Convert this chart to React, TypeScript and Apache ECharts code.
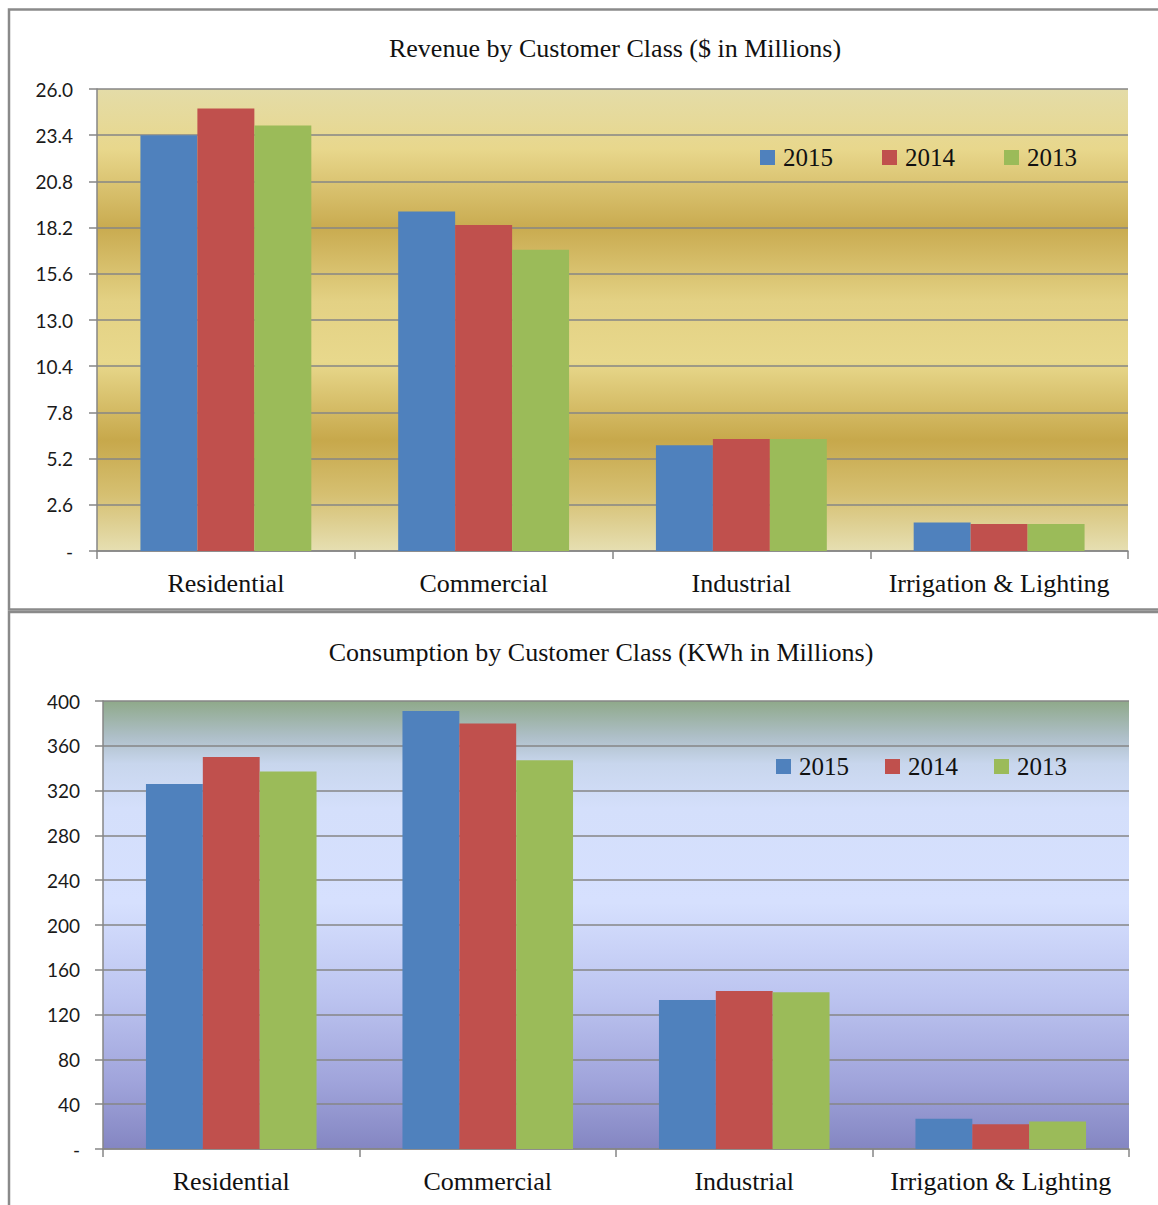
import React, { useEffect, useRef } from 'react';
import * as echarts from 'echarts';

const categories = ['Residential', 'Commercial', 'Industrial', 'Irrigation & Lighting'];
const years = ['2015', '2014', '2013'];
const revenue2015 = [23.4, 19.1, 5.95, 1.6];
const revenue2014 = [24.9, 18.35, 6.3, 1.52];
const revenue2013 = [23.95, 16.95, 6.3, 1.52];
const consumption2015 = [326, 391, 133, 27];
const consumption2014 = [350, 380, 141, 22];
const consumption2013 = [337, 347, 140, 24.5];
const revenueAxis = { min: 0, max: 26, interval: 2.6 };
const consumptionAxis = { min: 0, max: 400, interval: 40 };
const revenueTitle = 'Revenue by Customer Class ($ in Millions)';
const consumptionTitle = 'Consumption by Customer Class (KWh in Millions)';

const colors = ['#4f81bd', '#c0504d', '#9bbb59'];
const SERIF = '"Liberation Serif", "DejaVu Serif", serif';
const SANS = 'Lato, "Open Sans", sans-serif';
const GRID_GRAY = '#868686';

const goldGradient = new echarts.graphic.LinearGradient(0, 0, 0, 1, [
  { offset: 0, color: '#e4dca8' },
  { offset: 0.13, color: '#e8d78c' },
  { offset: 0.3, color: '#c9ab50' },
  { offset: 0.46, color: '#e3d184' },
  { offset: 0.59, color: '#e8d88c' },
  { offset: 0.76, color: '#c7a84b' },
  { offset: 0.88, color: '#d6c072' },
  { offset: 1, color: '#e6dfb2' },
]);

const blueGradient = new echarts.graphic.LinearGradient(0, 0, 0, 1, [
  { offset: 0, color: '#8fa98a' },
  { offset: 0.08, color: '#aebfc8' },
  { offset: 0.14, color: '#c8d6ed' },
  { offset: 0.24, color: '#d4dffb' },
  { offset: 0.45, color: '#d6e0fe' },
  { offset: 0.66, color: '#bcc4f0' },
  { offset: 0.85, color: '#a0a4db' },
  { offset: 1, color: '#8486c2' },
]);

function App() {
  const ref = useRef<HTMLDivElement>(null);

  useEffect(() => {
    if (!ref.current) return;
    const chart = echarts.init(ref.current, null, { renderer: 'svg' });

    const xAxisBase = (gridIndex: number) => ({
      type: 'category',
      gridIndex,
      data: categories,
      axisLine: { show: true, lineStyle: { color: GRID_GRAY, width: 1.5 } },
      axisTick: { show: true, interval: 0, length: 8, lineStyle: { color: GRID_GRAY, width: 1.5 } },
      axisLabel: { interval: 0, color: '#111', fontFamily: SERIF, fontSize: 26, margin: 19 },
      splitLine: { show: false },
    });

    const yAxisBase = (gridIndex: number, cfg: any, margin: number, fmt: (v: number) => string) => ({
      type: 'value',
      gridIndex,
      min: cfg.min,
      max: cfg.max,
      interval: cfg.interval,
      axisLine: { show: true, lineStyle: { color: GRID_GRAY, width: 1.5 } },
      axisTick: { show: true, length: 8, lineStyle: { color: GRID_GRAY, width: 1.5 } },
      axisLabel: { color: '#1a1a1a', fontFamily: SANS, fontSize: 19, margin, formatter: fmt },
      splitLine: { show: true, lineStyle: { color: GRID_GRAY, width: 1.5 } },
    });

    const revenueSeries = [revenue2015, revenue2014, revenue2013];
    const consumptionSeries = [consumption2015, consumption2014, consumption2013];

    const series: any[] = [];
    years.forEach((y, i) => {
      series.push({
        type: 'bar',
        name: y,
        xAxisIndex: 0,
        yAxisIndex: 0,
        data: revenueSeries[i],
        itemStyle: { color: colors[i] },
        barGap: '0%',
        barCategoryGap: '33.7%',
      });
    });
    years.forEach((y, i) => {
      series.push({
        type: 'bar',
        name: y,
        xAxisIndex: 1,
        yAxisIndex: 1,
        data: consumptionSeries[i],
        itemStyle: { color: colors[i] },
        barGap: '0%',
        barCategoryGap: '33.5%',
      });
    });

    const legendBase = (left: number, top: number, gap: number) => ({
      left,
      top,
      data: years,
      icon: 'rect',
      itemWidth: 15,
      itemHeight: 15,
      itemGap: gap,
      textStyle: { fontFamily: SERIF, fontSize: 25, color: '#111', padding: [0, 0, 0, 3] },
      selectedMode: false,
    });

    chart.setOption({
      animation: false,
      backgroundColor: '#ffffff',
      color: colors,
      grid: [
        { left: 97, top: 89, width: 1031, height: 462, show: true, borderWidth: 0, backgroundColor: goldGradient },
        { left: 103, top: 701, width: 1026, height: 448, show: true, borderWidth: 0, backgroundColor: blueGradient },
      ],
      xAxis: [xAxisBase(0), xAxisBase(1)],
      yAxis: [
        yAxisBase(0, revenueAxis, 24, (v: number) => (v === 0 ? '-' : v.toFixed(1))),
        yAxisBase(1, consumptionAxis, 23, (v: number) => (v === 0 ? '-' : String(Math.round(v)))),
      ],
      legend: [legendBase(755, 140, 49), legendBase(771, 749, 36)],
      series,
      graphic: [
        {
          type: 'rect',
          shape: { x: 9, y: 9.5, width: 1170, height: 600 },
          style: { fill: 'none', stroke: '#8a8a8a', lineWidth: 2.5 },
          silent: true,
        },
        {
          type: 'rect',
          shape: { x: 9, y: 612, width: 1170, height: 620 },
          style: { fill: 'none', stroke: '#8a8a8a', lineWidth: 2.5 },
          silent: true,
        },
        {
          type: 'text',
          x: 615,
          y: 48,
          style: {
            text: revenueTitle,
            fontFamily: SERIF,
            fontSize: 26,
            fill: '#111',
            textAlign: 'center',
            textVerticalAlign: 'middle',
          },
        },
        {
          type: 'text',
          x: 601,
          y: 652,
          style: {
            text: consumptionTitle,
            fontFamily: SERIF,
            fontSize: 26,
            fill: '#111',
            textAlign: 'center',
            textVerticalAlign: 'middle',
          },
        },
      ],
    });

    return () => {
      chart.dispose();
    };
  }, []);

  return (
    <div
      ref={ref}
      style={{ position: 'absolute', left: 0, top: 0, width: 1158, height: 1205 }}
    />
  );
}

export default App;
